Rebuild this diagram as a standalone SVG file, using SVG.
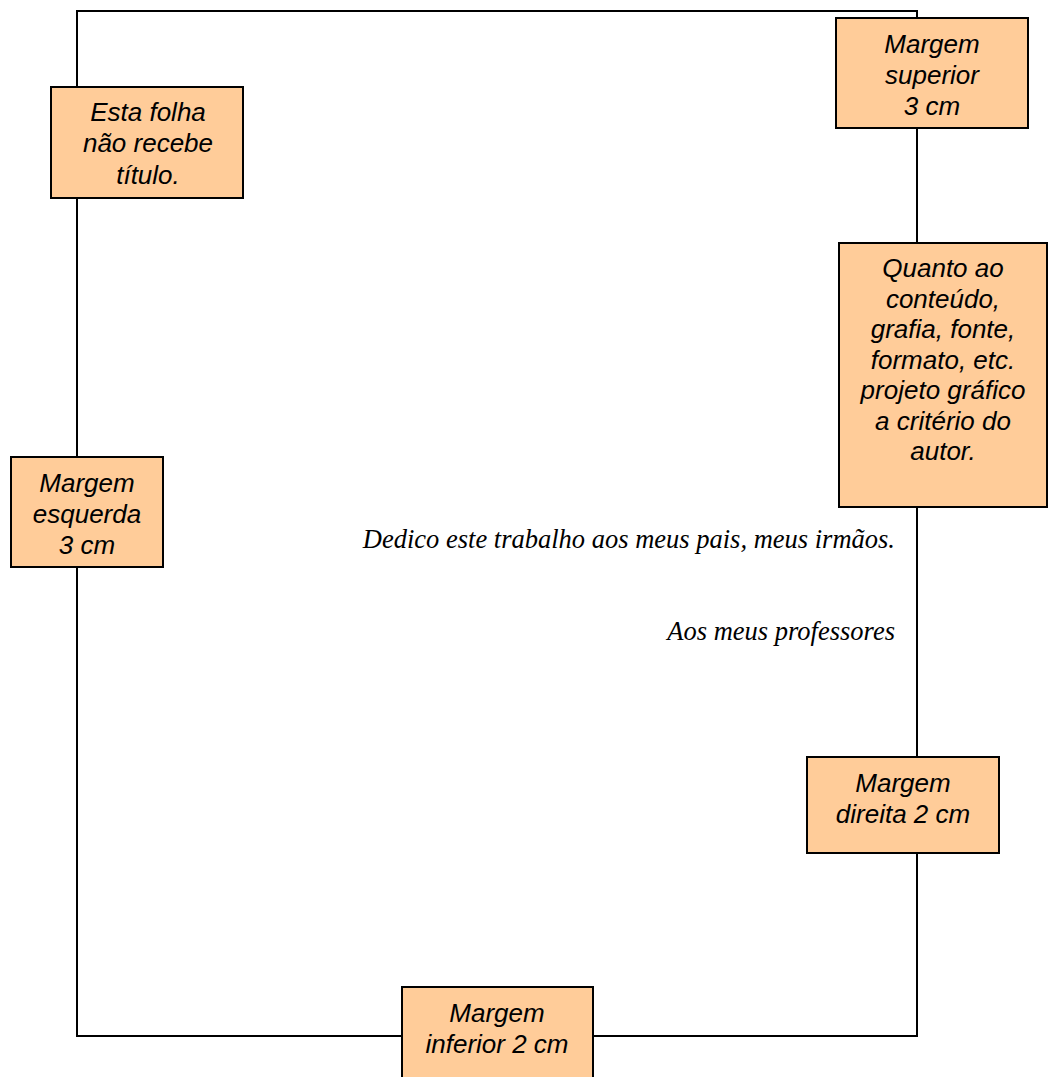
<svg xmlns="http://www.w3.org/2000/svg" width="1048" height="1077" viewBox="0 0 1048 1077">
<style>
.box{fill:#FFCC99;stroke:#000;stroke-width:2}
.lbl{font-family:"Liberation Sans",Arial,sans-serif;font-style:italic;font-size:26px;fill:#000;text-anchor:middle}
.ser{font-family:"Liberation Serif","Times New Roman",serif;font-style:italic;font-size:26.5px;fill:#000;text-anchor:end}
.ln{fill:none;stroke:#000;stroke-width:2}
</style>
<rect width="1048" height="1077" fill="#fff"/>
<g id="connectors">
<rect class="ln" x="77" y="11" width="840" height="1025"/>
</g>
<g id="n-titulo">
<rect class="box" x="51" y="87" width="192" height="111"/>
<text class="lbl" x="148" y="121">Esta folha</text>
<text class="lbl" x="148" y="152">não recebe</text>
<text class="lbl" x="148" y="184">título.</text>
</g>
<g id="n-superior">
<rect class="box" x="836" y="18" width="192" height="110"/>
<text class="lbl" x="932" y="53">Margem</text>
<text class="lbl" x="932" y="84">superior</text>
<text class="lbl" x="932" y="115">3 cm</text>
</g>
<g id="n-conteudo">
<rect class="box" x="839" y="243" width="208" height="264"/>
<text class="lbl" x="943" y="277">Quanto ao</text>
<text class="lbl" x="943" y="308">conteúdo,</text>
<text class="lbl" x="943" y="338">grafia, fonte,</text>
<text class="lbl" x="943" y="369">formato, etc.</text>
<text class="lbl" x="943" y="399">projeto gráfico</text>
<text class="lbl" x="943" y="430">a critério do</text>
<text class="lbl" x="943" y="460">autor.</text>
</g>
<g id="n-esquerda">
<rect class="box" x="11" y="457" width="152" height="110"/>
<text class="lbl" x="87" y="492">Margem</text>
<text class="lbl" x="87" y="523">esquerda</text>
<text class="lbl" x="87" y="554">3 cm</text>
</g>
<g id="n-direita">
<rect class="box" x="807" y="757" width="192" height="96"/>
<text class="lbl" x="903" y="792">Margem</text>
<text class="lbl" x="903" y="823">direita 2 cm</text>
</g>
<g id="n-inferior">
<rect class="box" x="402" y="987" width="191" height="100"/>
<text class="lbl" x="497" y="1022">Margem</text>
<text class="lbl" x="497" y="1053">inferior 2 cm</text>
</g>
<g id="dedicatoria">
<text class="ser" x="895" y="548">Dedico este trabalho aos meus pais, meus irmãos.</text>
<text class="ser" x="895" y="640">Aos meus professores</text>
</g>
</svg>
